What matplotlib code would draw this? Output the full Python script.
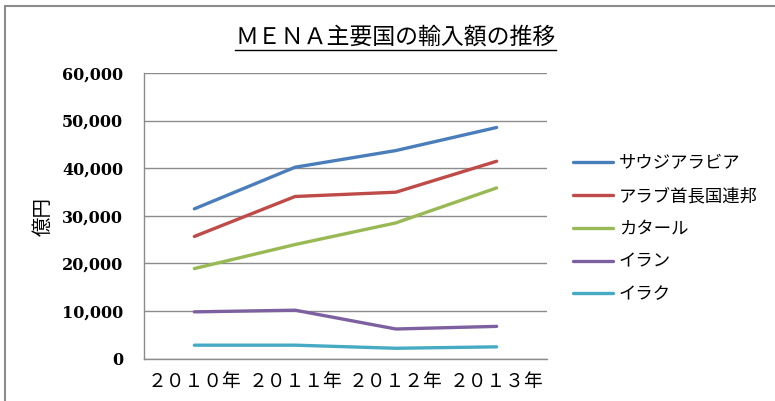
import matplotlib
matplotlib.use('Agg')
import matplotlib.pyplot as plt
from matplotlib.patches import Rectangle
from matplotlib.lines import Line2D

# data (億円)
years = ['２０１０年', '２０１１年', '２０１２年', '２０１３年']
saudi = [31450, 40200, 43700, 48550]
uae = [25650, 34050, 34950, 41450]
qatar = [18900, 23950, 28500, 35850]
iran = [9800, 10150, 6200, 6750]
iraq = [2800, 2800, 2150, 2450]

names = ['サウジアラビア', 'アラブ首長国連邦', 'カタール', 'イラン', 'イラク']
series = [saudi, uae, qatar, iran, iraq]
colors = ['#4a7ebb', '#be4b48', '#98b954', '#7d60a0', '#46aac5']

jp = ['Noto Sans CJK JP', 'DejaVu Sans']
num_font = 'DejaVu Serif'

fig = plt.figure(figsize=(7.75, 4.01), dpi=100)
fig.patch.set_facecolor('white')

# outer chart frame (runs off the right/bottom edge)
fig.patches.append(Rectangle((5 / 775, -0.2), 1.5, (401 - 6) / 401 + 0.2,
                             transform=fig.transFigure, fill=False,
                             edgecolor='#8c8c8c', linewidth=1.5))

ax = fig.add_axes([144 / 775, (401 - 358.5) / 401, 403 / 775, 285.5 / 401])
x = range(len(years))
for vals, name, c in zip(series, names, colors):
    ax.plot(x, vals, color=c, linewidth=2.4, label=name, solid_capstyle='round')

ax.set_xlim(-0.5, len(years) - 0.5)
ax.set_ylim(0, 60000)
ax.set_yticks(range(0, 60001, 10000))
ax.set_yticklabels([f'{v:,}' for v in range(0, 60001, 10000)],
                   fontfamily=num_font, fontweight='bold', fontsize=11.5)
ax.set_xticks(list(x))
ax.set_xticklabels(years, fontfamily=jp, fontsize=13.5)
ax.tick_params(axis='y', length=0, pad=15)
ax.tick_params(axis='x', length=0, pad=9)
ax.grid(axis='y', color='#8c8c8c', linewidth=1)
ax.set_axisbelow(True)
for s in ['top', 'right']:
    ax.spines[s].set_visible(False)
for s in ['left', 'bottom']:
    ax.spines[s].set_color('#8c8c8c')
    ax.spines[s].set_linewidth(1)

fig.text(43 / 775, 1 - 216 / 401, '億円', rotation=90, ha='center', va='center',
         fontfamily=jp, fontsize=14)

title = fig.text(395.5 / 775, 1 - 37 / 401, 'ＭＥＮＡ主要国の輸入額の推移', ha='center',
                 va='center', fontfamily=jp, fontsize=16.5)

leg = fig.legend(loc='center left', bbox_to_anchor=(557 / 775, 1 - 229 / 401),
                 frameon=False, prop={'family': jp, 'size': 12.5},
                 handlelength=2.3, handletextpad=0.35, labelspacing=0.85)

# underline the title
fig.canvas.draw()
bb = title.get_window_extent(fig.canvas.get_renderer()).transformed(fig.transFigure.inverted())
fig.lines.append(Line2D([bb.x0, bb.x1], [bb.y0 - 0.004, bb.y0 - 0.004],
                        transform=fig.transFigure, color='black', linewidth=1))

fig.savefig('out.png', dpi=100, facecolor='white')
